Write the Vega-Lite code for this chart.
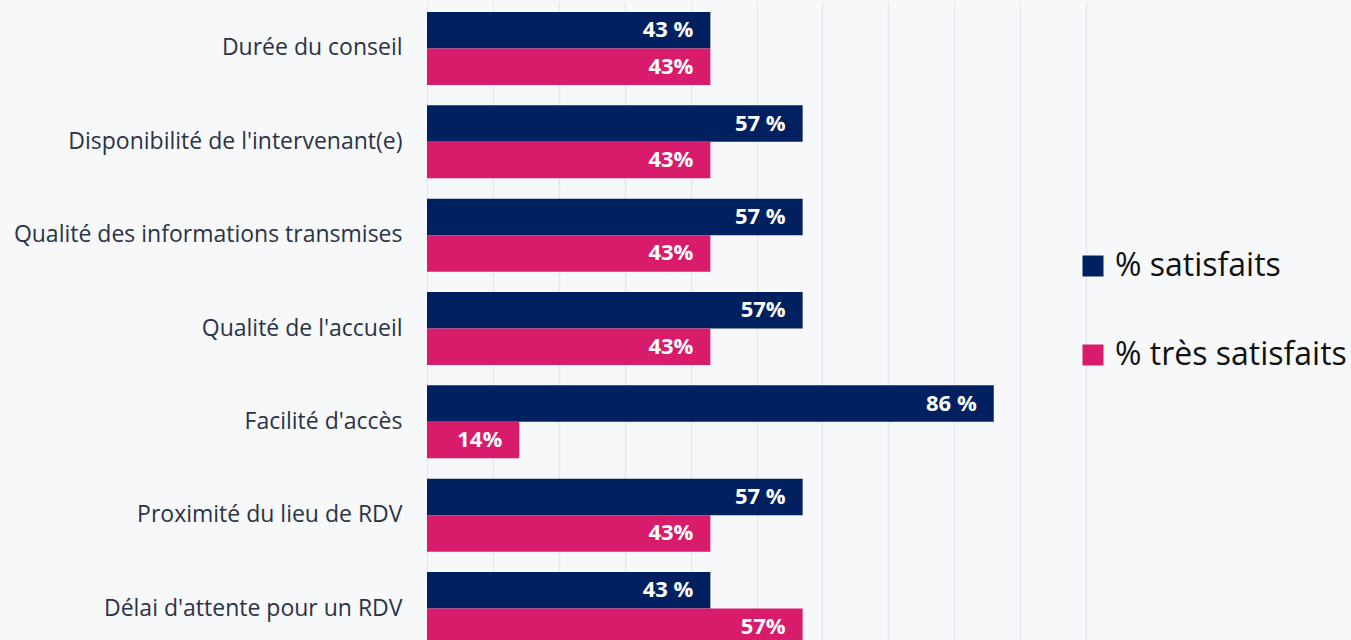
{
  "$schema": "https://vega.github.io/schema/vega-lite/v6.json",
  "autosize": "none",
  "width": 659,
  "height": 653,
  "padding": {"left": 427, "top": 2, "right": 265, "bottom": 0},
  "background": "#F7F8FA",
  "config": {"view": {"stroke": null}, "font": "Open Sans"},
  "data": {
    "values": [
      {"cat": "Durée du conseil", "series": "% satisfaits", "value": 43, "label": "43 %"},
      {"cat": "Durée du conseil", "series": "% très satisfaits", "value": 43, "label": "43%"},
      {"cat": "Disponibilité de l'intervenant(e)", "series": "% satisfaits", "value": 57, "label": "57 %"},
      {"cat": "Disponibilité de l'intervenant(e)", "series": "% très satisfaits", "value": 43, "label": "43%"},
      {"cat": "Qualité des informations transmises", "series": "% satisfaits", "value": 57, "label": "57 %"},
      {"cat": "Qualité des informations transmises", "series": "% très satisfaits", "value": 43, "label": "43%"},
      {"cat": "Qualité de l'accueil", "series": "% satisfaits", "value": 57, "label": "57%"},
      {"cat": "Qualité de l'accueil", "series": "% très satisfaits", "value": 43, "label": "43%"},
      {"cat": "Facilité d'accès", "series": "% satisfaits", "value": 86, "label": "86 %"},
      {"cat": "Facilité d'accès", "series": "% très satisfaits", "value": 14, "label": "14%"},
      {"cat": "Proximité du lieu de RDV", "series": "% satisfaits", "value": 57, "label": "57 %"},
      {"cat": "Proximité du lieu de RDV", "series": "% très satisfaits", "value": 43, "label": "43%"},
      {"cat": "Délai d'attente pour un RDV", "series": "% satisfaits", "value": 43, "label": "43 %"},
      {"cat": "Délai d'attente pour un RDV", "series": "% très satisfaits", "value": 57, "label": "57%"}
    ]
  },
  "encoding": {
    "y": {
      "field": "cat",
      "type": "nominal",
      "sort": null,
      "scale": {"paddingInner": 0.2176, "paddingOuter": 0.107},
      "axis": {
        "title": null,
        "domain": false,
        "ticks": false,
        "labelPadding": 25,
        "labelFontSize": 23,
        "labelColor": "#2B3346",
        "labelFont": "Open Sans",
        "labelLimit": 500
      }
    },
    "yOffset": {
      "field": "series",
      "type": "nominal",
      "sort": ["% satisfaits", "% très satisfaits"],
      "scale": {"paddingInner": 0, "paddingOuter": 0}
    },
    "x": {
      "field": "value",
      "type": "quantitative",
      "scale": {"domain": [0, 100], "nice": false},
      "axis": {
        "title": null,
        "values": [0, 10, 20, 30, 40, 50, 60, 70, 80, 90, 100],
        "labels": false,
        "ticks": false,
        "domain": false,
        "grid": true,
        "gridColor": "#E3E6EE",
        "gridWidth": 1.2
      }
    }
  },
  "layer": [
    {
      "mark": {"type": "bar"},
      "encoding": {
        "color": {
          "field": "series",
          "type": "nominal",
          "scale": {"domain": ["% satisfaits", "% très satisfaits"], "range": ["#002060", "#D81B6A"]},
          "legend": {
            "title": null,
            "orient": "none",
            "legendX": 650,
            "legendY": 248,
            "symbolType": "square",
            "symbolSize": 441,
            "symbolStrokeWidth": 0,
            "labelFontSize": 32,
            "labelFont": "Open Sans",
            "labelColor": "#111111",
            "labelOffset": 6,
            "rowPadding": 57,
            "labelLimit": 400
          }
        }
      }
    },
    {
      "mark": {
        "type": "text",
        "align": "right",
        "baseline": "middle",
        "dx": -17,
        "fontSize": 22,
        "fontWeight": "bold",
        "font": "Open Sans",
        "color": "#FFFFFF"
      },
      "encoding": {"text": {"field": "label"}}
    }
  ]
}
